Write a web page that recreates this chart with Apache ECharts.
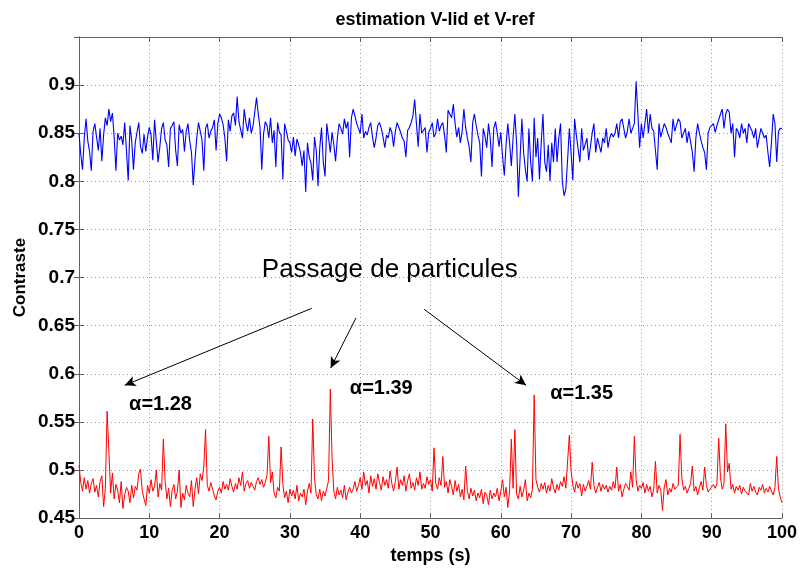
<!DOCTYPE html>
<html>
<head>
<meta charset="utf-8">
<script src="https://cdn.jsdelivr.net/npm/echarts@6/dist/echarts.min.js"></script>
<style>html,body{margin:0;padding:0;background:#fff}#c{width:800px;height:570px}</style>
</head>
<body>
<div id="c"></div>
<script>
const titleText = 'estimation V-lid et V-ref';
const xName = 'temps (s)';
const yName = 'Contraste';
const xTicks = [0, 10, 20, 30, 40, 50, 60, 70, 80, 90, 100];
const yTicks = [0.45, 0.5, 0.55, 0.6, 0.65, 0.7, 0.75, 0.8, 0.85, 0.9];
const annotationText = 'Passage de particules';
const alphaLabels = ['\u03b1=1.28', '\u03b1=1.39', '\u03b1=1.35'];

// V-ref (blue), sampled every 0.25 s from 0 to 100 s
const vRef = [
0.850,0.828,0.812,0.845, 0.865,0.842,0.831,0.811, 0.852,0.860,0.846,0.832, 0.855,0.821,0.848,0.866, 0.858,0.875,0.862,0.871,
0.846,0.811,0.850,0.843, 0.847,0.838,0.861,0.832, 0.801,0.858,0.842,0.812, 0.840,0.851,0.861,0.836, 0.829,0.849,0.831,0.846,
0.856,0.848,0.822,0.864, 0.841,0.820,0.836,0.855, 0.861,0.843,0.838,0.815, 0.855,0.858,0.862,0.832, 0.816,0.859,0.850,0.854,
0.831,0.852,0.860,0.842, 0.830,0.796,0.822,0.845, 0.861,0.852,0.843,0.811, 0.855,0.860,0.845,0.852, 0.856,0.864,0.832,0.860,
0.870,0.866,0.859,0.845, 0.821,0.864,0.852,0.868, 0.871,0.858,0.888,0.862, 0.860,0.845,0.875,0.861, 0.852,0.866,0.850,0.857,
0.855,0.887,0.870,0.856, 0.812,0.849,0.862,0.858, 0.845,0.866,0.840,0.853, 0.815,0.861,0.851,0.848, 0.802,0.860,0.852,0.843,
0.840,0.830,0.846,0.826, 0.844,0.838,0.830,0.816, 0.832,0.789,0.840,0.825, 0.819,0.801,0.846,0.832, 0.795,0.835,0.856,0.820,
0.805,0.860,0.845,0.830, 0.851,0.838,0.821,0.845, 0.860,0.855,0.849,0.865, 0.855,0.862,0.825,0.866, 0.875,0.868,0.860,0.855,
0.850,0.870,0.845,0.852, 0.848,0.856,0.861,0.846, 0.835,0.845,0.858,0.861, 0.855,0.846,0.835,0.848, 0.845,0.856,0.851,0.836,
0.852,0.861,0.856,0.851, 0.845,0.842,0.825,0.853, 0.856,0.861,0.868,0.885, 0.860,0.836,0.870,0.850, 0.852,0.856,0.830,0.851,
0.855,0.861,0.846,0.850, 0.865,0.852,0.858,0.861, 0.848,0.830,0.874,0.870, 0.866,0.880,0.860,0.846, 0.856,0.840,0.852,0.875,
0.856,0.845,0.836,0.820, 0.861,0.870,0.858,0.848, 0.840,0.805,0.855,0.847, 0.835,0.860,0.845,0.815, 0.855,0.862,0.850,0.836,
0.851,0.826,0.806,0.838, 0.860,0.840,0.816,0.845, 0.870,0.840,0.784,0.825, 0.865,0.830,0.812,0.800, 0.855,0.820,0.800,0.866,
0.825,0.845,0.802,0.840, 0.870,0.820,0.810,0.838, 0.800,0.840,0.820,0.855, 0.820,0.845,0.860,0.800, 0.785,0.792,0.822,0.855,
0.830,0.801,0.865,0.848, 0.850,0.820,0.855,0.832, 0.830,0.845,0.822,0.836, 0.850,0.860,0.830,0.845, 0.845,0.830,0.845,0.840,
0.855,0.835,0.845,0.850, 0.846,0.850,0.860,0.845, 0.862,0.865,0.855,0.845, 0.852,0.865,0.850,0.855, 0.860,0.904,0.870,0.835,
0.860,0.845,0.860,0.875, 0.850,0.870,0.855,0.852, 0.850,0.812,0.860,0.846, 0.845,0.860,0.856,0.850, 0.850,0.840,0.865,0.852,
0.850,0.865,0.862,0.845, 0.845,0.855,0.840,0.852, 0.850,0.830,0.810,0.845, 0.860,0.850,0.842,0.835, 0.830,0.812,0.850,0.856,
0.855,0.860,0.851,0.858, 0.860,0.870,0.875,0.855, 0.870,0.875,0.872,0.850, 0.860,0.825,0.855,0.852, 0.845,0.860,0.850,0.855,
0.840,0.860,0.856,0.852, 0.845,0.855,0.835,0.845, 0.855,0.850,0.845,0.848, 0.830,0.815,0.840,0.870, 0.860,0.820,0.852,0.855,
0.855
];

// V-lid (red), sampled every 0.25 s from 0 to 100 s
const vLid = [
0.505,0.487,0.478,0.492, 0.480,0.489,0.476,0.486, 0.491,0.477,0.484,0.472, 0.488,0.494,0.462,0.481, 0.561,0.519,0.476,0.497,
0.470,0.485,0.479,0.466, 0.488,0.460,0.474,0.482, 0.478,0.466,0.484,0.471, 0.483,0.479,0.496,0.501, 0.478,0.470,0.463,0.484,
0.476,0.490,0.478,0.483, 0.500,0.472,0.486,0.479, 0.532,0.488,0.470,0.481, 0.462,0.479,0.485,0.470, 0.478,0.500,0.461,0.476,
0.469,0.484,0.476,0.472, 0.489,0.462,0.480,0.492, 0.475,0.496,0.489,0.503, 0.542,0.484,0.478,0.487, 0.480,0.473,0.469,0.478,
0.482,0.476,0.488,0.480, 0.485,0.479,0.491,0.483, 0.477,0.486,0.480,0.492, 0.484,0.498,0.478,0.486, 0.489,0.481,0.487,0.483,
0.479,0.488,0.492,0.485, 0.490,0.482,0.487,0.495, 0.535,0.487,0.498,0.476, 0.471,0.482,0.478,0.524, 0.485,0.471,0.478,0.466,
0.480,0.473,0.479,0.470, 0.484,0.468,0.476,0.472, 0.480,0.464,0.478,0.486, 0.476,0.553,0.492,0.474, 0.470,0.480,0.468,0.478,
0.473,0.481,0.489,0.584, 0.512,0.478,0.470,0.482, 0.474,0.479,0.471,0.484, 0.469,0.477,0.482,0.476, 0.480,0.488,0.478,0.484,
0.492,0.480,0.498,0.484, 0.489,0.476,0.494,0.483, 0.491,0.480,0.496,0.487, 0.479,0.493,0.484,0.490, 0.481,0.499,0.486,0.478,
0.488,0.503,0.480,0.490, 0.484,0.494,0.478,0.489, 0.496,0.481,0.487,0.479, 0.492,0.484,0.498,0.480, 0.486,0.481,0.493,0.485,
0.490,0.478,0.523,0.486, 0.480,0.492,0.484,0.514, 0.482,0.488,0.476,0.490, 0.483,0.474,0.489,0.478, 0.485,0.472,0.480,0.469,
0.504,0.478,0.470,0.481, 0.473,0.479,0.468,0.476, 0.471,0.480,0.465,0.477, 0.474,0.464,0.479,0.470, 0.476,0.472,0.481,0.468,
0.478,0.490,0.472,0.482, 0.461,0.478,0.532,0.481, 0.542,0.475,0.470,0.483, 0.472,0.479,0.490,0.468, 0.476,0.471,0.480,0.578,
0.490,0.482,0.477,0.486, 0.480,0.487,0.476,0.484, 0.478,0.491,0.482,0.476, 0.485,0.479,0.488,0.483, 0.493,0.481,0.479,0.536,
0.499,0.484,0.477,0.488, 0.481,0.486,0.473,0.485, 0.478,0.483,0.489,0.480, 0.508,0.484,0.476,0.482, 0.487,0.478,0.485,0.480,
0.484,0.477,0.483,0.479, 0.488,0.481,0.503,0.478, 0.485,0.472,0.480,0.486, 0.483,0.479,0.498,0.482, 0.535,0.490,0.478,0.484,
0.481,0.487,0.476,0.485, 0.478,0.483,0.472,0.480, 0.509,0.476,0.484,0.479, 0.458,0.482,0.490,0.474, 0.481,0.477,0.486,0.480,
0.478,0.484,0.537,0.492, 0.479,0.483,0.476,0.481, 0.486,0.504,0.478,0.483, 0.474,0.482,0.488,0.479, 0.503,0.484,0.477,0.480,
0.478,0.485,0.481,0.486, 0.533,0.492,0.480,0.486, 0.548,0.498,0.507,0.480, 0.485,0.476,0.483,0.479, 0.484,0.475,0.482,0.478,
0.480,0.474,0.486,0.478, 0.483,0.477,0.474,0.482, 0.479,0.485,0.476,0.481, 0.477,0.483,0.478,0.474, 0.482,0.514,0.480,0.472,
0.466
];

// Arrow annotations in data coordinates: [start, end]
const arrows = [
  [[33.1, 0.668], [6.5, 0.588]],
  [[39.4, 0.658], [35.8, 0.606]],
  [[49.1, 0.667], [63.6, 0.588]]
];
const textAnchors = { passage: [44.2, 0.708], alpha: [[11.6, 0.568], [43.0, 0.585], [71.5, 0.579]] };

const X_MIN = 0, X_MAX = 100, Y_MIN = 0.45, Y_MAX = 0.95;

function toPairs(arr) {
  const dt = (X_MAX - X_MIN) / (arr.length - 1);
  return arr.map((v, i) => [X_MIN + i * dt, v]);
}

const FONT = 'Liberation Sans, Arial, sans-serif';
const chart = echarts.init(document.getElementById('c'), null, { renderer: 'canvas' });

const gridLine = { show: true, lineStyle: { color: '#9a9a9a', type: [1, 3], width: 1 } };
const axisLineStyle = { show: true, lineStyle: { color: '#606060', width: 1 } };

const option = {
  backgroundColor: '#ffffff',
  animation: false,
  title: {
    text: titleText, left: 430, top: 6, textAlign: 'center',
    textStyle: { fontFamily: FONT, fontSize: 18, fontWeight: 'bold', color: '#000' }
  },
  grid: { left: 79, right: 18, top: 37, bottom: 49, containLabel: false },
  xAxis: [{
    type: 'value', min: X_MIN, max: X_MAX, interval: 10, position: 'bottom',
    name: xName, nameLocation: 'middle', nameGap: 28,
    nameTextStyle: { fontFamily: FONT, fontSize: 18, fontWeight: 'bold', color: '#000' },
    axisLine: axisLineStyle, axisTick: { show: true, inside: true, length: 5, lineStyle: { color: '#606060' } },
    axisLabel: { fontFamily: FONT, fontSize: 18, fontWeight: 'bold', color: '#000', margin: 6,
      formatter: v => xTicks.includes(v) ? String(v) : '' },
    splitLine: gridLine
  }, {
    type: 'value', min: X_MIN, max: X_MAX, interval: 10, position: 'top',
    axisLine: axisLineStyle, axisTick: { show: true, inside: true, length: 5, lineStyle: { color: '#606060' } },
    axisLabel: { show: false }, splitLine: { show: false }
  }],
  yAxis: [{
    type: 'value', min: Y_MIN, max: Y_MAX, interval: 0.05, position: 'left',
    name: yName, nameLocation: 'middle', nameGap: 50, nameRotate: 90, nameMoveOverlap: false,
    nameTextStyle: { fontFamily: FONT, fontSize: 17, fontWeight: 'bold', color: '#000' },
    axisLine: axisLineStyle, axisTick: { show: true, inside: true, length: 5, lineStyle: { color: '#606060' } },
    axisLabel: { fontFamily: FONT, fontSize: 19, fontWeight: 'bold', color: '#000', margin: 4,
      formatter: v => { const r = parseFloat(v.toFixed(2)); return yTicks.some(t => Math.abs(t - r) < 1e-6) ? String(r) : ''; } },
    splitLine: gridLine
  }, {
    type: 'value', min: Y_MIN, max: Y_MAX, interval: 0.05, position: 'right',
    axisLine: axisLineStyle, axisTick: { show: true, inside: true, length: 5, lineStyle: { color: '#606060' } },
    axisLabel: { show: false }, splitLine: { show: false }
  }],
  series: [{
    name: 'V-ref', type: 'line', data: toPairs(vRef), showSymbol: false, symbol: 'none',
    lineStyle: { color: '#0000ff', width: 1.1 }, xAxisIndex: 0, yAxisIndex: 0, silent: true
  }, {
    name: 'V-lid', type: 'line', data: toPairs(vLid), showSymbol: false, symbol: 'none',
    lineStyle: { color: '#ff0000', width: 1 }, xAxisIndex: 0, yAxisIndex: 0, silent: true,
    markLine: {
      silent: true, symbol: ['none', 'arrow'], symbolSize: [8, 11],
      label: { show: false },
      lineStyle: { color: '#000', width: 1, type: 'solid' },
      data: arrows.map(a => [{ coord: a[0] }, { coord: a[1] }])
    }
  }]
};
chart.setOption(option);

// Text annotations placed via axis scales
const pPass = chart.convertToPixel({ gridIndex: 0 }, textAnchors.passage);
const graphics = [{
  type: 'text', x: pPass[0], y: pPass[1],
  style: { text: annotationText, fontFamily: FONT, fontSize: 26, fill: '#000', textAlign: 'center', textVerticalAlign: 'middle' }
}];
textAnchors.alpha.forEach((c, i) => {
  const p = chart.convertToPixel({ gridIndex: 0 }, c);
  graphics.push({
    type: 'text', x: p[0], y: p[1],
    style: { text: alphaLabels[i], fontFamily: FONT, fontSize: 20, fontWeight: 'bold', fill: '#000', textAlign: 'center', textVerticalAlign: 'middle' }
  });
});
chart.setOption({ graphic: graphics });
</script>
</body>
</html>
